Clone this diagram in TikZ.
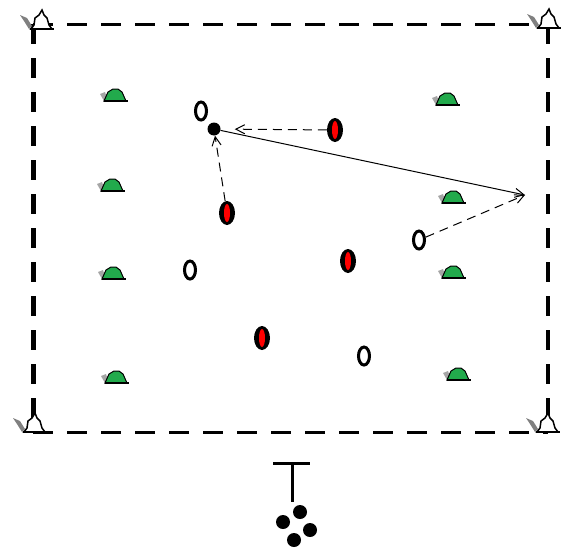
\documentclass[tikz,border=0pt]{standalone}
\usepackage{tikz}
\usetikzlibrary{shapes.geometric, arrows.meta, positioning}
\definecolor{conegreen}{RGB}{34,170,76}

\begin{document}
\begin{tikzpicture}[x=1pt,y=-1pt,
  whitep/.style={ellipse, draw, line width=3pt, fill=white, minimum width=11pt, minimum height=18pt, inner sep=0pt},
  redp/.style={ellipse, fill=black, minimum width=16pt, minimum height=24pt, inner sep=0pt,
    path picture={\fill[red] (path picture bounding box.center) ellipse (3pt and 9pt);}},
  ballp/.style={circle, fill=black, minimum size=14pt, inner sep=0pt},
  side/.style={dash pattern=on 20pt off 14pt},
  pass/.style={line width=1pt, dash pattern=on 9pt off 6pt, -{Straight Barb[length=9pt,width=9pt]}},
  run/.style={line width=1pt, -{Straight Barb[length=9pt,width=9pt]}},
  cone/.pic={
    \fill[gray!70] (-15,-7) -- (-10,-9) -- (-8,-3) -- (-11,0) -- cycle;
    \filldraw[fill=conegreen, line width=1pt] (-11,0) -- (-7,-9) -- (-2,-12) -- (3,-12) -- (7,-9) -- (11,0) -- cycle;
    \draw[line width=1.5pt] (-11,0) -- (13,0);},
  marker/.pic={
    \fill[gray] (-22,-14) -- (-15,-11) -- (-10,-3) -- (-13,0) -- (-18,-8) -- cycle;
    \filldraw[fill=white, line width=1.5pt] (-11,0) -- (-8,-4) -- (-7,-11) -- (-3,-14) -- (0,-19) -- (2,-14) -- (5,-11) -- (7,-4) -- (10,0) -- cycle;
    \draw[line width=2.5pt] (-12,0) -- (12,0);}]
\useasboundingbox (0,0) rectangle (562,549);

% field
\coordinate (nw) at (33,24);
\coordinate (ne) at (548,24);
\coordinate (sw) at (33,432);
\coordinate (se) at (548,432);
\draw[line width=5pt, side] (nw) -- (sw);
\draw[line width=3pt, side] (nw) -- (ne);
\draw[line width=4pt, side] (ne) -- (se);
\draw[line width=3pt, side] (sw) -- (se);

% corner markers
\pic at (42,29) {marker};
\pic at (549,28) {marker};
\pic at (35,432) {marker};
\pic at (548,432) {marker};

% cones
\foreach \x/\y in {115/101, 112/191, 113/279, 116/383, 447/105, 453/203, 453/278, 458/380}
  \pic at (\x,\y) {cone};

% players
\node[whitep] (w1) at (201,111) {};
\node[whitep] (w2) at (190,270) {};
\node[whitep] (w3) at (419,240) {};
\node[whitep] (w4) at (364,356) {};
\node[redp] (r1) at (335,130) {};
\node[redp] (r2) at (227,213) {};
\node[redp] (r3) at (348,261) {};
\node[redp] (r4) at (262,338) {};
\node[ballp, minimum size=13pt] (dot) at (214,129) {};

% moves
\coordinate (tgt) at (525,195);
\draw[pass, shorten >=14pt] (r1) -- (dot);
\draw[pass] (r2) -- (dot);
\draw[run] (dot) -- (tgt);
\draw[pass] (w3) -- (tgt);

% goal and balls
\coordinate (gl) at (273,463);
\coordinate (gr) at (310,463);
\coordinate (gm) at (292,463);
\coordinate (gb) at (292,502);
\draw[line width=3pt] (gl) -- (gr);
\draw[line width=3pt] (gm) -- (gb);
\node[ballp] (b1) at (300,512) {};
\node[ballp] (b2) at (283,522) {};
\node[ballp] (b3) at (310,530) {};
\node[ballp] (b4) at (294,540) {};
\end{tikzpicture}
\end{document}
